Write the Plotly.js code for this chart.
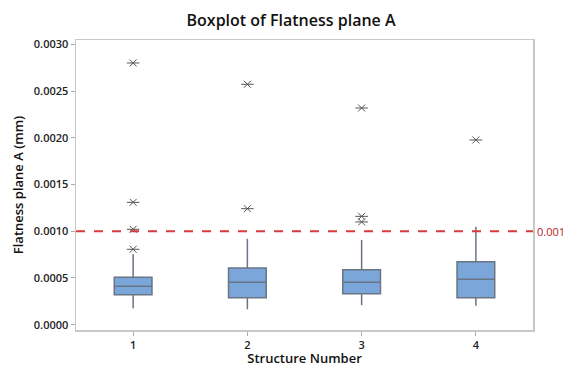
<!DOCTYPE html>
<html>
<head>
<meta charset="utf-8">
<script src="https://cdn.plot.ly/plotly-3.0.1.min.js"></script>
<style>html,body{margin:0;padding:0;background:#fff;}#chart{width:564px;height:367px;}</style>
</head>
<body>
<div id="chart"></div>
<script>
const structures = [1, 2, 3, 4];
const lowerWhisker = [0.000175, 0.000165, 0.000208, 0.000203];
const q1 = [0.000321, 0.000289, 0.000332, 0.000289];
const median = [0.000411, 0.000454, 0.000454, 0.000486];
const q3 = [0.000507, 0.000607, 0.000589, 0.000675];
const upperWhisker = [0.000754, 0.000921, 0.000907, 0.001049];
const outlierX = [1, 1, 1, 1, 2, 2, 3, 3, 3, 4];
const outlierY = [0.002802, 0.001310, 0.001021, 0.000807, 0.002574, 0.001242, 0.002320, 0.001160, 0.001100, 0.001978];
const refValue = 0.001;
const refLabel = "0.001";

const font = "'Open Sans', 'Noto Sans', sans-serif";

const traces = [
  {
    type: 'box',
    x: structures,
    q1: q1, median: median, q3: q3,
    lowerfence: lowerWhisker, upperfence: upperWhisker,
    boxpoints: false,
    width: 0.33,
    whiskerwidth: 0,
    fillcolor: '#7BA6DA',
    line: {color: '#6a7585', width: 1.5},
    hoverinfo: 'skip',
    showlegend: false
  },
  {
    type: 'scatter', mode: 'markers',
    x: outlierX, y: outlierY,
    marker: {symbol: 'x-thin-open', size: 7, color: '#555555', line: {color: '#555555', width: 1}},
    showlegend: false, hoverinfo: 'skip'
  },
  {
    type: 'scatter', mode: 'markers',
    x: outlierX, y: outlierY,
    marker: {symbol: 'line-ew-open', size: 9, color: '#555555', line: {color: '#555555', width: 1}},
    showlegend: false, hoverinfo: 'skip'
  }
];

const layout = {
  width: 564, height: 367,
  margin: {l: 76, r: 31, t: 40, b: 37},
  paper_bgcolor: '#ffffff', plot_bgcolor: '#ffffff',
  title: {
    text: 'Boxplot of Flatness plane A',
    font: {family: font, size: 16, color: '#111111', weight: 600},
    x: 0.516, xref: 'container', xanchor: 'center',
    y: 0.945, yref: 'container', yanchor: 'middle'
  },
  xaxis: {
    range: [0.5, 4.5],
    tickvals: structures,
    ticktext: structures.map(String),
    showgrid: false, zeroline: false,
    showline: true, mirror: true, linecolor: '#c8c8c8', linewidth: 1.5,
    ticks: 'outside', ticklen: 4, tickcolor: '#aaaaaa',
    tickfont: {family: font, size: 11, color: '#222222', weight: 600},
    title: {text: 'Structure Number', font: {family: font, size: 13, color: '#111111', weight: 600}, standoff: 5}
  },
  yaxis: {
    range: [-0.000057, 0.003048],
    tickvals: [0, 0.0005, 0.001, 0.0015, 0.002, 0.0025, 0.003],
    ticktext: ['0.0000', '0.0005', '0.0010', '0.0015', '0.0020', '0.0025', '0.0030'],
    showgrid: false, zeroline: false,
    showline: true, mirror: true, linecolor: '#c8c8c8', linewidth: 1.5,
    ticks: 'outside', ticklen: 4, tickcolor: '#aaaaaa',
    tickfont: {family: font, size: 11, color: '#222222', weight: 600},
    title: {text: 'Flatness plane A (mm)', font: {family: font, size: 13, color: '#111111', weight: 600}, standoff: 7}
  },
  shapes: [{
    type: 'line', xref: 'paper', x0: 0, x1: 1, yref: 'y', y0: refValue, y1: refValue,
    line: {color: '#d93a3a', width: 2, dash: 'dash'}
  }],
  annotations: [{
    xref: 'paper', x: 1, xanchor: 'left', xshift: 2,
    yref: 'y', y: refValue, yanchor: 'middle',
    text: refLabel, showarrow: false,
    font: {family: font, size: 11, color: '#b22222'}
  }]
};

Plotly.newPlot('chart', traces, layout, {displayModeBar: false, staticPlot: true});
</script>
</body>
</html>
